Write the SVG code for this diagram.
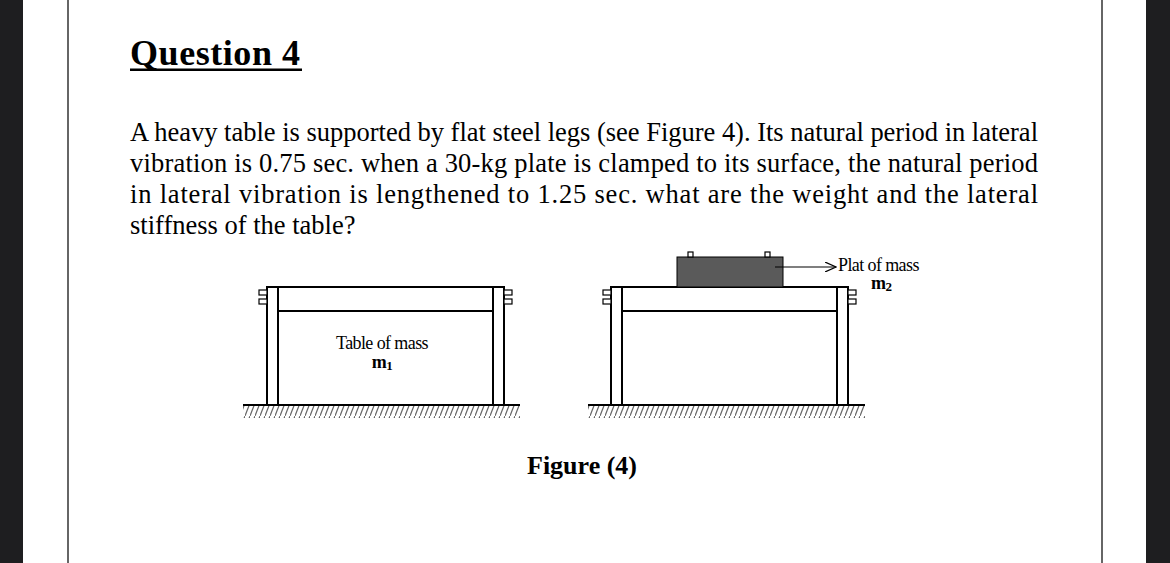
<svg xmlns="http://www.w3.org/2000/svg" width="1170" height="563" viewBox="0 0 1170 563">
<defs>
<style>
.t{font-family:"Liberation Serif",serif;font-size:26.5px;fill:#000}
.s{font-family:"Liberation Serif",serif;font-size:18px;fill:#000;letter-spacing:-0.6px}
.ln{stroke:#000;stroke-width:2;fill:none}
.tab{stroke:#000;stroke-width:1.2;fill:#fff}
</style>
<pattern id="h" width="5" height="13" patternUnits="userSpaceOnUse"><path d="M5 0 L0 13" stroke="#666" stroke-width="1.2"/></pattern>
<marker id="a" markerWidth="12" markerHeight="10" refX="11" refY="5" orient="auto" markerUnits="userSpaceOnUse"><path d="M0 0 L11 5 L0 10" fill="none" stroke="#000" stroke-width="1.2"/></marker>
</defs>
<rect width="1170" height="563" fill="#fff"/>
<rect x="0" y="0" width="23" height="563" fill="#1e1e20"/>
<rect x="1146" y="0" width="24" height="563" fill="#1e1e20"/>
<line x1="68" y1="0" x2="68" y2="563" stroke="#666" stroke-width="2"/>
<line x1="1102" y1="0" x2="1102" y2="563" stroke="#666" stroke-width="2"/>
<text x="130" y="65" font-family="Liberation Serif,serif" font-weight="bold" font-size="36" textLength="170">Question 4</text>
<rect x="130" y="68.5" width="172" height="2.5" fill="#000"/>
<text class="t" x="130" y="141" textLength="908" lengthAdjust="spacing">A heavy table is supported by flat steel legs (see Figure 4). Its natural period in lateral</text>
<text class="t" x="130" y="172" textLength="908" lengthAdjust="spacing">vibration is 0.75 sec. when a 30-kg plate is clamped to its surface, the natural period</text>
<text class="t" x="130" y="203" textLength="908" lengthAdjust="spacing">in lateral vibration is lengthened to 1.25 sec. what are the weight and the lateral</text>
<text class="t" x="130" y="234">stiffness of the table?</text>
<g id="table1">
<rect x="243" y="406" width="277" height="12" fill="url(#h)"/>
<line class="ln" x1="243" y1="405" x2="520" y2="405"/>
<rect class="ln" x="267" y="287" width="237" height="118" stroke-width="1.5"/>
<line class="ln" x1="278" y1="287" x2="278" y2="405" stroke-width="1.5"/>
<line class="ln" x1="493" y1="287" x2="493" y2="405" stroke-width="1.5"/>
<line class="ln" x1="278" y1="311" x2="493" y2="311" stroke-width="1.5"/>
<rect class="tab" x="259" y="290" width="8" height="5"/><rect class="tab" x="259" y="299" width="8" height="5"/>
<rect class="tab" x="504" y="290" width="8" height="5"/><rect class="tab" x="504" y="299" width="8" height="5"/>
<text class="s" x="382" y="349" text-anchor="middle">Table of mass</text>
<text class="s" x="382" y="368" text-anchor="middle" font-weight="bold" font-size="19">m<tspan font-size="13" dy="2">1</tspan></text>
</g>
<g id="table2">
<rect x="588" y="406" width="277" height="12" fill="url(#h)"/>
<line class="ln" x1="588" y1="405" x2="865" y2="405"/>
<rect class="ln" x="611" y="287" width="237" height="118" stroke-width="1.5"/>
<line class="ln" x1="622" y1="287" x2="622" y2="405" stroke-width="1.5"/>
<line class="ln" x1="837" y1="287" x2="837" y2="405" stroke-width="1.5"/>
<line class="ln" x1="622" y1="311" x2="837" y2="311" stroke-width="1.5"/>
<rect class="tab" x="603" y="290" width="8" height="5"/><rect class="tab" x="603" y="299" width="8" height="5"/>
<rect class="tab" x="848" y="290" width="8" height="5"/><rect class="tab" x="848" y="299" width="8" height="5"/>
</g>
<g id="plate">
<rect x="677" y="257" width="106" height="30" fill="#5a5a5a" stroke="#000" stroke-width="1"/>
<rect class="tab" x="688" y="252" width="5" height="5"/><rect class="tab" x="765" y="252" width="5" height="5"/>
<text class="s" x="838" y="271">Plat of mass</text>
<text class="s" x="871" y="289" font-weight="bold" font-size="19">m<tspan font-size="13" dy="2">2</tspan></text>
</g>
<g id="connectors">
<line x1="775" y1="267" x2="836" y2="267" stroke="#000" stroke-width="1.2" marker-end="url(#a)"/>
</g>
<text x="527" y="474" font-family="Liberation Serif,serif" font-weight="bold" font-size="26">Figure (4)</text>
</svg>
